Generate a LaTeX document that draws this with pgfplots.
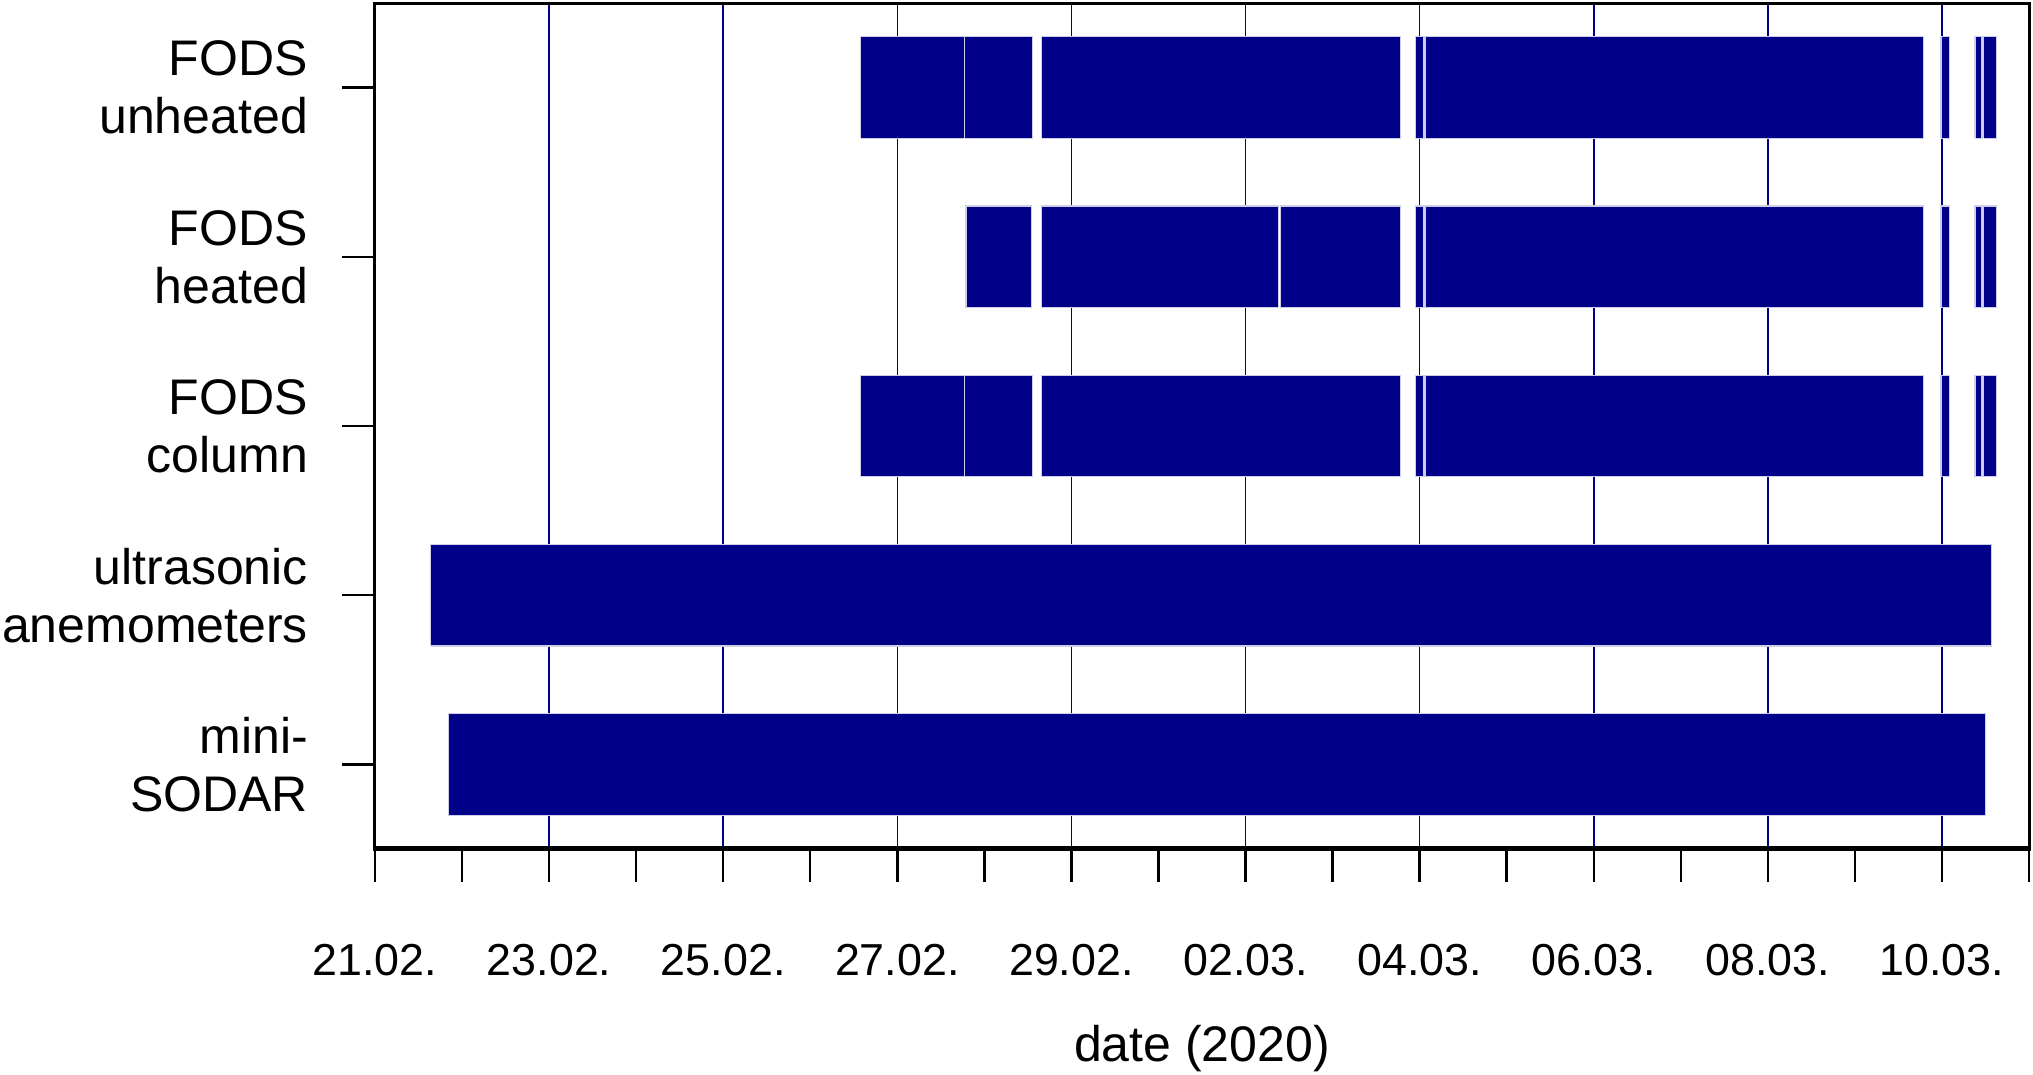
\documentclass[border=0pt]{standalone}
\usepackage{fontspec}
\setmainfont{Liberation Sans}
\usepackage{pgfplots}
\pgfplotsset{compat=1.18}
\definecolor{barblue}{RGB}{0,0,136}
\definecolor{baredge}{RGB}{205,205,232}
\begin{document}
\begin{tikzpicture}
\useasboundingbox (-93.75pt,-56.25pt) rectangle (414.5pt,212.25pt);
\begin{axis}[
  scale only axis,
  width=413.5pt, height=211.5pt,
  xmin=0, xmax=19, ymin=0.5, ymax=5.5,
  axis line style={line width=0.75pt},
  tick align=outside,
  xtick pos=bottom, ytick pos=left,
  xtick={0,2,...,18},
  minor xtick={1,3,...,19},
  xticklabels={21.02.,23.02.,25.02.,27.02.,29.02.,02.03.,04.03.,06.03.,08.03.,10.03.},
  ytick={1,2,3,4,5},
  yticklabels={{mini-\\SODAR},{ultrasonic\\anemometers},{FODS\\column},{FODS\\heated},{FODS\\unheated}},
  major tick length=8.25pt, minor tick length=8.25pt,
  tick style={line width=0.6pt, black},
  minor tick style={line width=0.6pt, black},
  xmajorgrids,
  major grid style={line width=0.4pt, barblue},
  xticklabel style={font=\fontsize{11.2}{13.4}\selectfont, yshift=-12pt},
  yticklabel style={font=\fontsize{12.5}{14.5}\selectfont, align=right, xshift=-5pt},
  xlabel={date (2020)},
  xlabel style={font=\fontsize{12.5}{14.5}\selectfont, at={(axis description cs:0.5,-0.2506)}, anchor=base},
  unbounded coords=jump,
]
% FODS unheated (y=5)
\addplot[fill=barblue, draw=baredge, line width=0.3pt] coordinates {
(5.58,4.7) (6.77,4.7) (6.77,5.3) (5.58,5.3) (5.58,4.7) (nan,nan)
(6.77,4.7) (7.55,4.7) (7.55,5.3) (6.77,5.3) (6.77,4.7) (nan,nan)
(7.66,4.7) (11.78,4.7) (11.78,5.3) (7.66,5.3) (7.66,4.7) (nan,nan)
(11.95,4.7) (12.05,4.7) (12.05,5.3) (11.95,5.3) (11.95,4.7) (nan,nan)
(12.07,4.7) (17.79,4.7) (17.79,5.3) (12.07,5.3) (12.07,4.7) (nan,nan)
(17.99,4.7) (18.09,4.7) (18.09,5.3) (17.99,5.3) (17.99,4.7) (nan,nan)
(18.38,4.7) (18.46,4.7) (18.46,5.3) (18.38,5.3) (18.38,4.7) (nan,nan)
(18.48,4.7) (18.63,4.7) (18.63,5.3) (18.48,5.3) (18.48,4.7)
};
% FODS heated (y=4)
\addplot[fill=barblue, draw=baredge, line width=0.3pt] coordinates {
(6.79,3.7) (7.54,3.7) (7.54,4.3) (6.79,4.3) (6.79,3.7) (nan,nan)
(7.66,3.7) (10.38,3.7) (10.38,4.3) (7.66,4.3) (7.66,3.7) (nan,nan)
(10.40,3.7) (11.78,3.7) (11.78,4.3) (10.40,4.3) (10.40,3.7) (nan,nan)
(11.95,3.7) (12.05,3.7) (12.05,4.3) (11.95,4.3) (11.95,3.7) (nan,nan)
(12.07,3.7) (17.79,3.7) (17.79,4.3) (12.07,4.3) (12.07,3.7) (nan,nan)
(17.99,3.7) (18.09,3.7) (18.09,4.3) (17.99,4.3) (17.99,3.7) (nan,nan)
(18.38,3.7) (18.46,3.7) (18.46,4.3) (18.38,4.3) (18.38,3.7) (nan,nan)
(18.48,3.7) (18.63,3.7) (18.63,4.3) (18.48,4.3) (18.48,3.7)
};
% FODS column (y=3)
\addplot[fill=barblue, draw=baredge, line width=0.3pt] coordinates {
(5.58,2.7) (6.77,2.7) (6.77,3.3) (5.58,3.3) (5.58,2.7) (nan,nan)
(6.77,2.7) (7.55,2.7) (7.55,3.3) (6.77,3.3) (6.77,2.7) (nan,nan)
(7.66,2.7) (11.78,2.7) (11.78,3.3) (7.66,3.3) (7.66,2.7) (nan,nan)
(11.95,2.7) (12.05,2.7) (12.05,3.3) (11.95,3.3) (11.95,2.7) (nan,nan)
(12.07,2.7) (17.79,2.7) (17.79,3.3) (12.07,3.3) (12.07,2.7) (nan,nan)
(17.99,2.7) (18.09,2.7) (18.09,3.3) (17.99,3.3) (17.99,2.7) (nan,nan)
(18.38,2.7) (18.46,2.7) (18.46,3.3) (18.38,3.3) (18.38,2.7) (nan,nan)
(18.48,2.7) (18.63,2.7) (18.63,3.3) (18.48,3.3) (18.48,2.7)
};
% ultrasonic anemometers (y=2)
\addplot[fill=barblue, draw=baredge, line width=0.3pt] coordinates {
(0.64,1.7) (18.57,1.7) (18.57,2.3) (0.64,2.3) (0.64,1.7)
};
% mini-SODAR (y=1)
\addplot[fill=barblue, draw=baredge, line width=0.3pt] coordinates {
(0.84,0.7) (18.50,0.7) (18.50,1.3) (0.84,1.3) (0.84,0.7)
};
\draw[line width=1.5pt, black] (rel axis cs:0,0) -- (rel axis cs:1,0);
\end{axis}
\end{tikzpicture}
\end{document}
